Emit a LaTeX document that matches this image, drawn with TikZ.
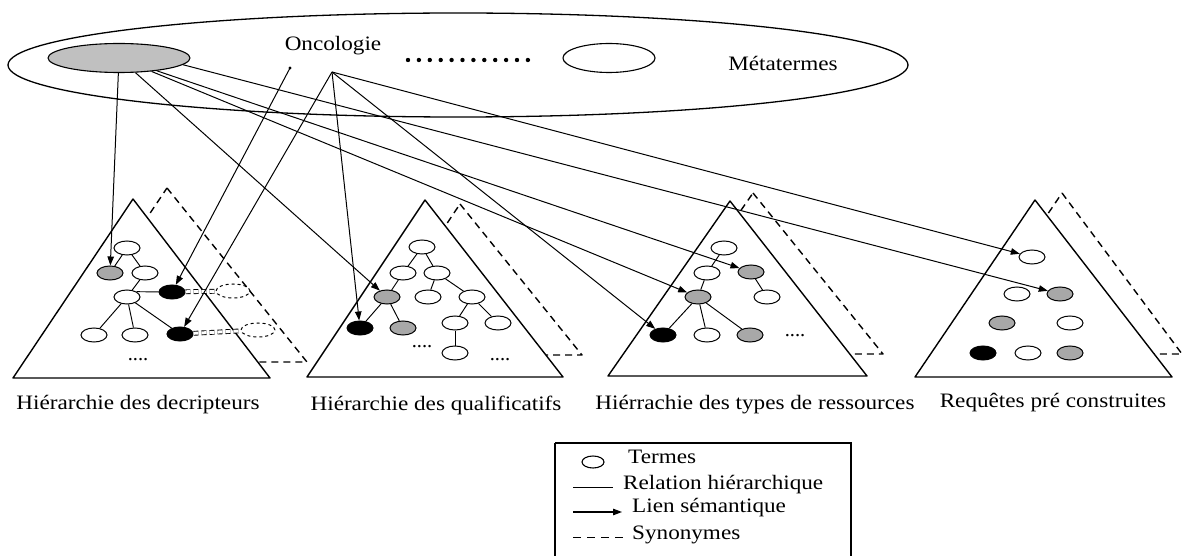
\documentclass[tikz,border=0pt]{standalone}
\usepackage{fontspec}
\setmainfont{Liberation Serif}
\usetikzlibrary{shapes.geometric,arrows.meta}
\definecolor{nodegray}{RGB}{168,168,168}
\definecolor{metagray}{RGB}{192,192,192}
\newcommand\widetext[1]{\scalebox{1.13}[1]{#1}}
\begin{document}
\begin{tikzpicture}[x=1pt,y=-1pt,
  txt/.style={font=\fontsize{20.5}{24}\selectfont,inner sep=0pt},
  term/.style={ellipse,draw,line width=1pt,fill=white,minimum width=26pt,minimum height=14pt,inner sep=0pt},
  termg/.style={term,fill=nodegray},
  termb/.style={term,fill=black},
  syn/.style={ellipse,draw,dashed,line width=1pt,minimum width=34pt,minimum height=14pt,inner sep=0pt},
  hier/.style={line width=0.95pt},
  link/.style={line width=1pt,-{Triangle[length=9pt,width=6.5pt]}},
  synl/.style={line width=0.9pt,dash pattern=on 5pt off 3pt},
  tri/.style={line width=1.4pt,fill=white,line join=round},
  dtri/.style={line width=1.4pt,dash pattern=on 7pt off 5pt,line join=round},
]
\useasboundingbox (0,0) rectangle (1184,556);

% ---------- metaterm layer ----------
\draw[line width=1.3pt] (458,65) ellipse [x radius=450pt, y radius=52pt];
\node[ellipse,draw,line width=1.1pt,fill=metagray,minimum width=142pt,minimum height=29pt,inner sep=0pt] (desc) at (119,58) {};
\node[ellipse,draw,line width=1.1pt,fill=white,minimum width=92pt,minimum height=29pt,inner sep=0pt] (other) at (609,58) {};
\node[txt] (onc) at (333,46) {\widetext{Oncologie}};
\node[txt] (meta) at (783,63) {\widetext{Métatermes}};
\foreach \i in {0,...,11} \fill (408+10.9*\i,60) circle (2.2pt);
\coordinate (oncPt) at (332,72);
\coordinate (oncDot) at (290,68);
\fill (oncDot) circle (1.7pt);

% ---------- synonym (dashed) hierarchies behind ----------
\draw[dtri] (167,188) -- (307,362) -- (50,362) -- cycle;
\draw[dtri] (460,204) -- (582,355) -- (359,355) -- cycle;
\draw[dtri] (753,193) -- (883,354) -- (641,354) -- cycle;
\draw[dtri] (1062,193) -- (1182,354) -- (953,354) -- cycle;

% ---------- hierarchies ----------
\draw[tri] (133,199) -- (270,378) -- (13,378) -- cycle;
\draw[tri] (425,200) -- (563,377) -- (307,377) -- cycle;
\draw[tri] (730,201) -- (867,376) -- (608,376) -- cycle;
\draw[tri] (1035,200) -- (1172,377) -- (915,377) -- cycle;

% descriptors
\node[term]  (t1a) at (127,248) {};
\node[termg] (t1b) at (110,273) {};
\node[term]  (t1c) at (145,273) {};
\node[termb] (t1d) at (172,292) {};
\node[term]  (t1e) at (127,297) {};
\node[term]  (t1f) at (94,335) {};
\node[term]  (t1g) at (135,335) {};
\node[termb] (t1h) at (180,334) {};
\node[syn]   (t1s) at (233,291) {};
\node[syn]   (t1u) at (258,330) {};
\node[txt,anchor=base] (t1dots) at (138,360) {....};
\draw[hier] (t1a) -- (t1b);
\draw[hier] (t1a) -- (t1c);
\draw[hier] (t1c) -- (t1e);
\draw[hier] (t1e.north east) -- (t1d);
\draw[hier] (t1e) -- (t1f);
\draw[hier] (t1e) -- (t1g);
\draw[hier] (t1e) -- (t1h);
\draw[synl,double,double distance=3pt] (t1d) -- (t1s);
\draw[synl,double,double distance=3pt] (t1h) -- (t1u);

% qualifiers
\node[term]  (t2a) at (422,247) {};
\node[term]  (t2b) at (403,273) {};
\node[term]  (t2c) at (437,273) {};
\node[termg] (t2d) at (387,297) {};
\node[term]  (t2e) at (428,297) {};
\node[term]  (t2f) at (472,297) {};
\node[termb] (t2g) at (360,328) {};
\node[termg] (t2h) at (403,328) {};
\node[term]  (t2i) at (455,323) {};
\node[term]  (t2j) at (498,323) {};
\node[term]  (t2k) at (455,353) {};
\node[txt,anchor=base] (t2dots) at (422,347) {....};
\node[txt,anchor=base] (t2dotsb) at (500,360) {....};
\draw[hier] (t2a) -- (t2b);
\draw[hier] (t2a) -- (t2c);
\draw[hier] (t2b) -- (t2d);
\draw[hier] (t2c) -- (t2e);
\draw[hier] (t2c) -- (t2f);
\draw[hier] (t2d) -- (t2g);
\draw[hier] (t2d) -- (t2h);
\draw[hier] (t2f) -- (t2i);
\draw[hier] (t2f) -- (t2j);
\draw[hier] (t2i) -- (t2k);

% resource types
\node[term]  (t3a) at (724,248) {};
\node[term]  (t3b) at (707,273) {};
\node[termg] (t3c) at (751,272) {};
\node[term]  (t3d) at (767,297) {};
\node[termg] (t3e) at (698,297) {};
\node[termb] (t3f) at (663,335) {};
\node[term]  (t3g) at (707,335) {};
\node[termg] (t3h) at (750,335) {};
\node[txt,anchor=base] (t3dots) at (795,336) {....};
\draw[hier] (t3a) -- (t3b);
\draw[hier] (t3b) -- (t3e);
\draw[hier] (t3c) -- (t3d);
\draw[hier] (t3e) -- (t3f);
\draw[hier] (t3e) -- (t3g);
\draw[hier] (t3e) -- (t3h);

% prebuilt queries
\node[term]  (t4a) at (1032,257) {};
\node[term]  (t4b) at (1017,294) {};
\node[termg] (t4c) at (1060,294) {};
\node[termg] (t4d) at (1002,323) {};
\node[term]  (t4e) at (1070,323) {};
\node[termb] (t4f) at (983,353) {};
\node[term]  (t4g) at (1028,353) {};
\node[termg] (t4h) at (1070,353) {};

% ---------- captions ----------
\node[txt] (c1) at (138,405) {\widetext{Hiérarchie des decripteurs}};
\node[txt] (c2) at (436,405) {\widetext{Hiérarchie des qualificatifs}};
\node[txt] (c3) at (755,405) {\widetext{Hiérrachie des types de ressources}};
\node[txt] (c4) at (1053,403) {\widetext{Requêtes pré construites}};

% ---------- semantic links ----------
\draw[link] (desc) -- (t1b);
\draw[link] (desc) -- (t2d);
\draw[link] (desc) -- (t3c);
\draw[link] (desc) -- (t3e);
\draw[link] (desc.-6) -- (t4c);
\draw[link] (oncDot) -- (t1d);
\draw[link] (oncPt) -- (t1h);
\draw[link] (oncPt) -- (t2g);
\draw[link] (oncPt) -- (t3f);
\draw[link] (oncPt) -- (t4a);

% ---------- legend ----------
\draw[line width=1.1pt] (851,560) -- (851,443) -- (555,443);
\draw[line width=2.2pt] (555,442.5) -- (555,560);
\node[ellipse,draw,line width=1.1pt,minimum width=22pt,minimum height=12pt,inner sep=0pt] (lgT) at (593,462) {};
\node[txt,anchor=west] (lgTt) at (628,457) {\widetext{Termes}};
\coordinate (lgRa) at (573,487); \coordinate (lgRb) at (613,487);
\draw[hier] (lgRa) -- (lgRb);
\node[txt,anchor=west] (lgRt) at (623,485) {\widetext{Relation hiérarchique}};
\coordinate (lgLa) at (573,512); \coordinate (lgLb) at (622,512);
\draw[link,line width=1.2pt] (lgLa) -- (lgLb);
\node[txt,anchor=west] (lgLt) at (632,508) {\widetext{Lien sémantique}};
\coordinate (lgSa) at (573,537); \coordinate (lgSb) at (627,537);
\draw[line width=1pt,dash pattern=on 8pt off 6pt] (lgSa) -- (lgSb);
\node[txt,anchor=west] (lgSt) at (632,535) {\widetext{Synonymes}};
\end{tikzpicture}
\end{document}
